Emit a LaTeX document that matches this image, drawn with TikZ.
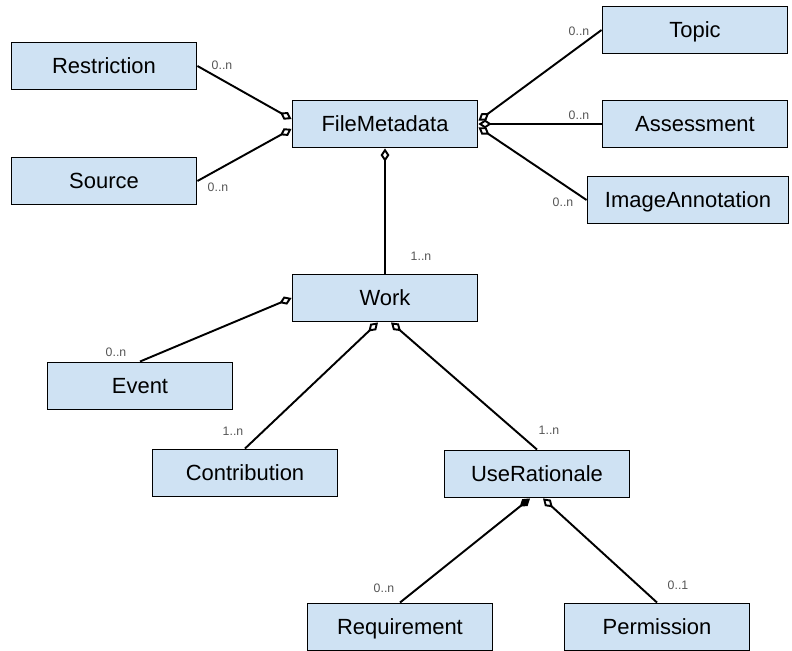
\documentclass[tikz,border=0pt]{standalone}
\usepackage{fontspec}
\setmainfont{Liberation Sans}
\usetikzlibrary{arrows.meta, calc}
\definecolor{boxblue}{HTML}{CFE2F3}
\definecolor{multgray}{HTML}{555555}
\tikzstyle{cls} = [rectangle, minimum width=3.7cm, minimum height=0.94cm, text centered, text height=9pt, text depth=0pt, draw=black, line width=1.1pt, fill=boxblue, font=\fontsize{12.5}{15}\selectfont]
\tikzstyle{agg} = [line width=1.1pt, {Diamond[open,length=7.5pt,width=5pt]}-]
\tikzstyle{comp} = [line width=1.1pt, {Diamond[length=7.5pt,width=5pt]}-]
\tikzstyle{mult} = [text=multgray, font=\fontsize{7}{8}\selectfont, inner sep=0pt]

\begin{document}
\begin{tikzpicture}[x=0.02cm, y=-0.02cm]
		\useasboundingbox (0,0) rectangle (792,651);
		\node (restriction) [cls] at (104,66) {Restriction};
		\node (source) [cls] at (104,181) {Source};
		\node (filemeta) [cls] at (385,124) {FileMetadata};
		\node (topic) [cls] at (695,30) {Topic};
		\node (assessment) [cls] at (695,124) {Assessment};
		\node (imageannot) [cls, minimum width=4.02cm] at (688,200) {ImageAnnotation};
		\node (work) [cls] at (385,298) {Work};
		\node (event) [cls] at (140,386) {Event};
		\node (contribution) [cls] at (245,473) {Contribution};
		\node (userationale) [cls] at (537,474) {UseRationale};
		\node (requirement) [cls] at (400,627) {Requirement};
		\node (permission) [cls] at (657,627) {Permission};
		% multiplicities
		\node (mRestriction) [mult] at (222,65) {0..n};
		\node (mSource) [mult] at (218,187) {0..n};
		\node (mTopic) [mult] at (579,31) {0..n};
		\node (mAssessment) [mult] at (579,115) {0..n};
		\node (mImageannot) [mult] at (563,202) {0..n};
		\node (mWork) [mult] at (421,256) {1..n};
		\node (mEvent) [mult] at (116,352) {0..n};
		\node (mContribution) [mult] at (233,431) {1..n};
		\node (mUserationale) [mult] at (549,430) {1..n};
		\node (mRequirement) [mult] at (384,588) {0..n};
		\node (mPermission) [mult] at (678,585) {0..1};
		% associations
		\draw [agg] (filemeta.177) -- (restriction.east);
		\draw [agg] (filemeta.183) -- (source.east);
		\draw [agg] (filemeta.2) -- (topic.west);
		\draw [agg] (filemeta.east) -- (assessment.west);
		\draw [agg] (filemeta.-2) -- (imageannot.west);
		\draw [agg] (filemeta.south) -- (work.north);
		\draw [agg] (work.west) -- (event.north);
		\draw [agg] ($(work.south)+(-7,0)$) -- (contribution.north);
		\draw [agg] ($(work.south)+(6,0)$) -- (userationale.north);
		\draw [comp] ($(userationale.south)+(-7,0)$) -- (requirement.north);
		\draw [agg] ($(userationale.south)+(6,0)$) -- (permission.north);
	\end{tikzpicture}
\end{document}
